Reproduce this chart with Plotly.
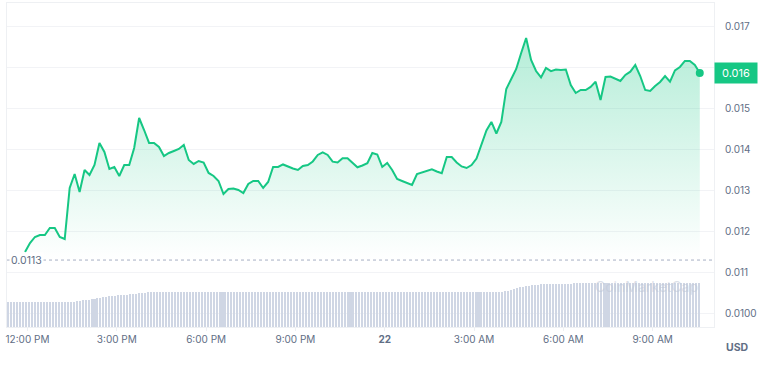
import pandas as pd
import plotly.graph_objects as go

# ---------------- data ----------------
price_start = "2024-05-21 11:55"
price_step = "10min"
prices = [
    0.011497, 0.011717, 0.011864, 0.011913, 0.011913, 0.012084, 0.012084, 0.011864, 0.011815, 0.013061,
    0.013403, 0.012963, 0.013500, 0.013378, 0.013622, 0.014160, 0.013940, 0.013525, 0.013574, 0.013354,
    0.013622, 0.013622, 0.014038, 0.014770, 0.014477, 0.014160, 0.014160, 0.014062, 0.013842, 0.013915,
    0.013964, 0.014013, 0.014111, 0.013745, 0.013647, 0.013720, 0.013683, 0.013427, 0.013354, 0.013232,
    0.012914, 0.013036, 0.013048, 0.013012, 0.012938, 0.013158, 0.013232, 0.013232, 0.013061, 0.013207,
    0.013574, 0.013574, 0.013635, 0.013581, 0.013537, 0.013500, 0.013598, 0.013622, 0.013708, 0.013867,
    0.013928, 0.013867, 0.013703, 0.013683, 0.013786, 0.013786, 0.013664, 0.013566, 0.013610, 0.013664,
    0.013915, 0.013879, 0.013574, 0.013671, 0.013500, 0.013280, 0.013232, 0.013183, 0.013134, 0.013403,
    0.013439, 0.013476, 0.013517, 0.013464, 0.013420, 0.013818, 0.013818, 0.013683, 0.013586, 0.013549,
    0.013622, 0.013781, 0.014111, 0.014465, 0.014673, 0.014392, 0.014673, 0.015479, 0.015723, 0.015967,
    0.016358, 0.016725, 0.016187, 0.015918, 0.015760, 0.015992, 0.015914, 0.015955, 0.015943, 0.015955,
    0.015577, 0.015381, 0.015454, 0.015454, 0.015528, 0.015657, 0.015210, 0.015772, 0.015784, 0.015723,
    0.015674, 0.015821, 0.015901, 0.016065, 0.015796, 0.015454, 0.015430, 0.015552, 0.015650, 0.015796,
    0.015657, 0.015931, 0.016016, 0.016163, 0.016163, 0.016065, 0.015870,
]

volume_start = "2024-05-21 11:21"
volume_step = "6min"
volumes = [
    2.50, 2.50, 2.50, 2.50, 2.50, 2.50, 2.50, 2.50, 2.50, 2.50, 2.50,
    2.50, 2.50, 2.50, 2.50, 2.50, 2.50, 2.50, 2.50, 2.50, 2.50, 2.50,
    2.55, 2.60, 2.65, 2.70, 2.70, 2.75, 2.80, 2.85, 2.90, 2.95, 3.00, 3.05, 3.10, 3.10,
    3.15, 3.20, 3.20, 3.25, 3.25, 3.30, 3.30, 3.35, 3.40, 3.40, 3.45, 3.50, 3.50, 3.55,
    3.55, 3.55, 3.55, 3.55, 3.55, 3.55, 3.55, 3.55, 3.55, 3.55, 3.55, 3.55, 3.55,
    3.55, 3.55, 3.55, 3.55, 3.55, 3.55, 3.55, 3.55, 3.55, 3.55, 3.55, 3.55, 3.55,
    3.55, 3.55, 3.55, 3.55, 3.55, 3.55, 3.55, 3.55, 3.55, 3.55, 3.55, 3.55, 3.55,
    3.55, 3.55, 3.55, 3.55, 3.55, 3.55, 3.55, 3.55, 3.55, 3.55, 3.55, 3.55, 3.55,
    3.55, 3.55, 3.55, 3.55, 3.55, 3.55, 3.55, 3.55, 3.55, 3.55, 3.55, 3.55, 3.55,
    3.55, 3.55, 3.55, 3.55, 3.55, 3.55, 3.55, 3.55, 3.55, 3.55, 3.55, 3.55, 3.55,
    3.50, 3.50, 3.50, 3.50, 3.50, 3.50, 3.50, 3.50, 3.50, 3.50, 3.50, 3.50, 3.50,
    3.50, 3.50, 3.50, 3.50, 3.50, 3.50, 3.50, 3.50, 3.50, 3.50, 3.50, 3.50, 3.50,
    3.50, 3.50, 3.50, 3.50, 3.55, 3.55, 3.55, 3.55, 3.55, 3.55, 3.55, 3.55, 3.55,
    3.60, 3.65, 3.70, 3.80, 3.90, 4.00, 4.05, 4.10, 4.15, 4.20, 4.25, 4.25, 4.30,
    4.30, 4.30, 4.30, 4.30, 4.30, 4.30, 4.30, 4.30, 4.30, 4.30,
    4.45, 4.45, 4.45, 4.45, 4.45, 4.45, 4.45, 4.45, 4.45, 4.45, 4.45,
    4.45, 4.45, 4.45, 4.45, 4.45, 4.45, 4.45, 4.45, 4.45, 4.45, 4.45,
    4.45, 4.45, 4.45, 4.45, 4.45, 4.45, 4.45, 4.45, 4.45, 4.45, 4.45,
    4.45, 4.45, 4.45, 4.45, 4.45, 4.45, 4.45, 4.45, 4.45, 4.45,
]

reference_price = 0.0113
reference_label = "0.0113"

y_tickvals = [0.010, 0.011, 0.012, 0.013, 0.014, 0.015, 0.016, 0.017]
y_ticktext = ["0.0100", "0.011", "0.012", "0.013", "0.014", "0.015", "0.016", "0.017"]

x_tickvals = ["2024-05-21 12:00", "2024-05-21 15:00", "2024-05-21 18:00", "2024-05-21 21:00",
              "2024-05-22 00:00", "2024-05-22 03:00", "2024-05-22 06:00", "2024-05-22 09:00"]
x_ticktext = ["12:00 PM", "3:00 PM", "6:00 PM", "9:00 PM", "<b>22</b>", "3:00 AM", "6:00 AM", "9:00 AM"]

# ---------------- figure ----------------
GREEN = "#16c784"
GREY = "#616e85"
FONT = "Inter"

price_times = pd.date_range(price_start, periods=len(prices), freq=price_step)
volume_times = pd.date_range(volume_start, periods=len(volumes), freq=volume_step)

fig = go.Figure()

fig.add_trace(go.Bar(
    x=volume_times, y=volumes, yaxis="y2",
    marker=dict(color="#cfd6e4", line=dict(width=0)),
    width=0.68 * 6 * 60 * 1000,
    hoverinfo="skip", showlegend=False,
))

fig.add_trace(go.Scatter(
    x=price_times, y=prices, mode="lines",
    line=dict(color=GREEN, width=2),
    fill="tozeroy",
    fillgradient=dict(type="vertical",
                      colorscale=[[0, "rgba(22,199,132,0.0)"], [1, "rgba(22,199,132,0.32)"]],
                      start=reference_price, stop=max(prices)),
    showlegend=False,
))

fig.add_trace(go.Scatter(
    x=[price_times[-1]], y=[prices[-1]], mode="markers",
    marker=dict(color=GREEN, size=8),
    showlegend=False,
))

fig.update_layout(
    width=769, height=374,
    margin=dict(l=7, r=55, t=3, b=47),
    paper_bgcolor="white", plot_bgcolor="white",
    font=dict(family=FONT, size=10, color=GREY),
    showlegend=False,
    bargap=0,
    xaxis=dict(
        range=["2024-05-21 11:18:40", "2024-05-22 11:03:40"],
        tickvals=x_tickvals, ticktext=x_ticktext,
        showgrid=False, zeroline=False,
        showline=True, linecolor="#eef0f3", linewidth=1, mirror=True,
        ticks="outside", ticklen=3, tickcolor="#eef0f3",
        tickfont=dict(family=FONT, size=10, color=GREY),
    ),
    yaxis=dict(
        side="right",
        range=[0.009665, 0.017579],
        tickvals=y_tickvals, ticktext=y_ticktext,
        showgrid=True, gridcolor="#f2f3f6", gridwidth=1,
        zeroline=False,
        showline=True, linecolor="#eef0f3", linewidth=1, mirror=True,
        ticks="", ticklabelstandoff=8,
        tickfont=dict(family=FONT, size=10, color=GREY),
    ),
    yaxis2=dict(
        overlaying="y", range=[0, 32.4], visible=False, fixedrange=True,
    ),
)

# reference dotted line and label
fig.add_shape(type="line", xref="paper", yref="y", x0=0.0, x1=1.0,
              y0=reference_price, y1=reference_price,
              line=dict(color="#a6b0c3", width=1, dash="dot"), layer="above")
fig.add_annotation(xref="paper", yref="y", x=0, y=reference_price, xanchor="left", yanchor="middle",
                   xshift=2, text=reference_label, showarrow=False, bgcolor="white",
                   font=dict(family=FONT, size=10.5, color=GREY), borderpad=1)

# current price label
fig.add_annotation(xref="paper", yref="y", x=1, y=prices[-1], xanchor="left", yanchor="middle",
                   text=f"{prices[-1]:.3f}", showarrow=False, bgcolor=GREEN,
                   font=dict(family=FONT, size=11, color="white"), borderpad=3,
                   width=36)

# currency label
fig.add_annotation(xref="paper", yref="paper", x=1, y=0, xanchor="left", yanchor="top",
                   xshift=10, yshift=-12, text="<b>USD</b>", showarrow=False,
                   font=dict(family=FONT, size=10.5, color=GREY))

# watermark
fig.add_annotation(xref="paper", yref="paper", x=0.905, y=0.125, xanchor="center", yanchor="middle",
                   text="CoinMarketCap", showarrow=False,
                   font=dict(family=FONT, size=14, color="rgba(190,198,214,0.55)"))

fig.write_html("out.html", config={"displayModeBar": False},
               post_script="document.body.style.margin='0px';")
